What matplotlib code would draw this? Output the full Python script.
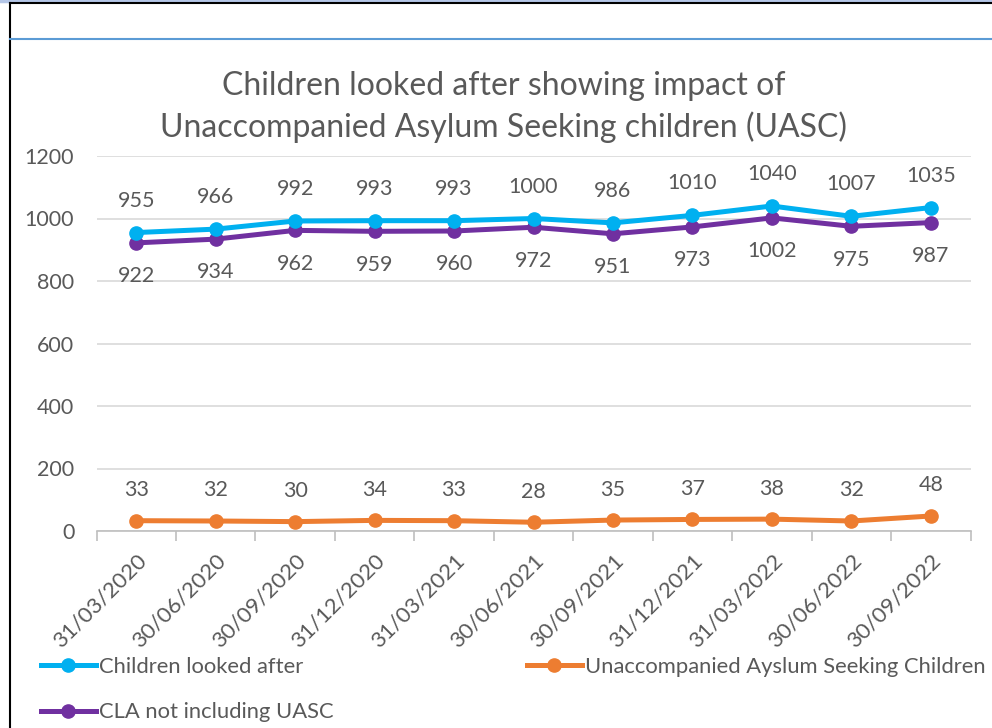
import matplotlib
matplotlib.use("Agg")
import matplotlib.pyplot as plt
from matplotlib.lines import Line2D
import numpy as np

plt.rcParams['font.family'] = ['Lato', 'DejaVu Sans']

dates = ["31/03/2020", "30/06/2020", "30/09/2020", "31/12/2020", "31/03/2021",
         "30/06/2021", "30/09/2021", "31/12/2021", "31/03/2022", "30/06/2022",
         "30/09/2022"]
cla = [955, 966, 992, 993, 993, 1000, 986, 1010, 1040, 1007, 1035]
uasc = [33, 32, 30, 34, 33, 28, 35, 37, 38, 32, 48]
cla_not_uasc = [922, 934, 962, 959, 960, 972, 951, 973, 1002, 975, 987]

W, H = 992, 728
fig = plt.figure(figsize=(W / 100, H / 100), dpi=100)
fig.patch.set_facecolor('white')

def px(x0, y0, x1, y1):
    return [x0 / W, 1 - y1 / H, (x1 - x0) / W, (y1 - y0) / H]

ax = fig.add_axes(px(96.5, 156, 970.5, 531))
x = np.arange(len(dates))
TXT = '#595959'
c_blue, c_orange, c_purple = '#00B0F0', '#ED7D31', '#7030A0'
lw, ms = 3.6, 9.5

l1, = ax.plot(x, cla, color=c_blue, lw=lw, marker='o', ms=ms, label='Children looked after', zorder=4)
l3, = ax.plot(x, cla_not_uasc, color=c_purple, lw=lw, marker='o', ms=ms, label='CLA not including UASC', zorder=3)
l2, = ax.plot(x, uasc, color=c_orange, lw=lw, marker='o', ms=ms, label='Unaccompanied Ayslum Seeking Children', zorder=3)

fs = 15.5
for xi, v in zip(x, cla):
    ax.annotate(str(v), (xi, v), xytext=(0, 23), textcoords='offset points',
                ha='center', va='center', fontsize=fs, color=TXT)
for xi, v in zip(x, cla_not_uasc):
    ax.annotate(str(v), (xi, v), xytext=(0, -24), textcoords='offset points',
                ha='center', va='center', fontsize=fs, color=TXT)
for xi, v in zip(x, uasc):
    ax.annotate(str(v), (xi, v), xytext=(0, 22), textcoords='offset points',
                ha='center', va='center', fontsize=fs, color=TXT)

ax.set_xlim(-0.5, len(dates) - 0.5)
ax.set_ylim(0, 1200)
ax.set_yticks(range(0, 1201, 200))
ax.grid(axis='y', color='#D9D9D9', lw=1.2)
ax.set_axisbelow(True)
for s in ['top', 'right', 'left']:
    ax.spines[s].set_visible(False)
ax.spines['bottom'].set_color('#BFBFBF')
ax.spines['bottom'].set_linewidth(1.2)
ax.tick_params(axis='y', length=0, labelsize=fs, labelcolor=TXT, pad=16)
ax.set_xticks(x)
ax.set_xticklabels(dates, rotation=45, ha='right', rotation_mode='anchor')
ax.tick_params(axis='x', which='major', length=0, labelsize=16, labelcolor=TXT, pad=14)
ax.set_xticks(np.arange(-0.5, len(dates), 1), minor=True)
ax.tick_params(axis='x', which='minor', length=7, color='#BFBFBF', width=1.2)

fig.text(504 / W, 1 - 107 / H, "Children looked after showing impact of\nUnaccompanied Asylum Seeking children (UASC)",
         ha='center', va='center', fontsize=23, color=TXT, linespacing=1.38)

leg = fig.legend(handles=[l1, l3, l2], ncol=2, loc='upper left',
                 bbox_to_anchor=(32 / W, 1 - 648 / H), frameon=False,
                 fontsize=15.8, labelcolor=TXT, handlelength=2.5, handletextpad=0.15,
                 columnspacing=8.8, labelspacing=1.17, borderaxespad=0)

# frame decorations
fig.add_artist(Line2D([0, 1], [1 - 1 / H, 1 - 1 / H], color='#B4C6E7', lw=2.5))
fig.add_artist(Line2D([10 / W, 1], [1 - 3 / H, 1 - 3 / H], color='black', lw=1.5))
fig.add_artist(Line2D([10 / W, 10 / W], [0, 1 - 3 / H], color='black', lw=1.5))
fig.add_artist(Line2D([10 / W, 1], [1 - 39 / H, 1 - 39 / H], color='#5B9BD5', lw=1.5))

fig.savefig('out.png', dpi=100)
